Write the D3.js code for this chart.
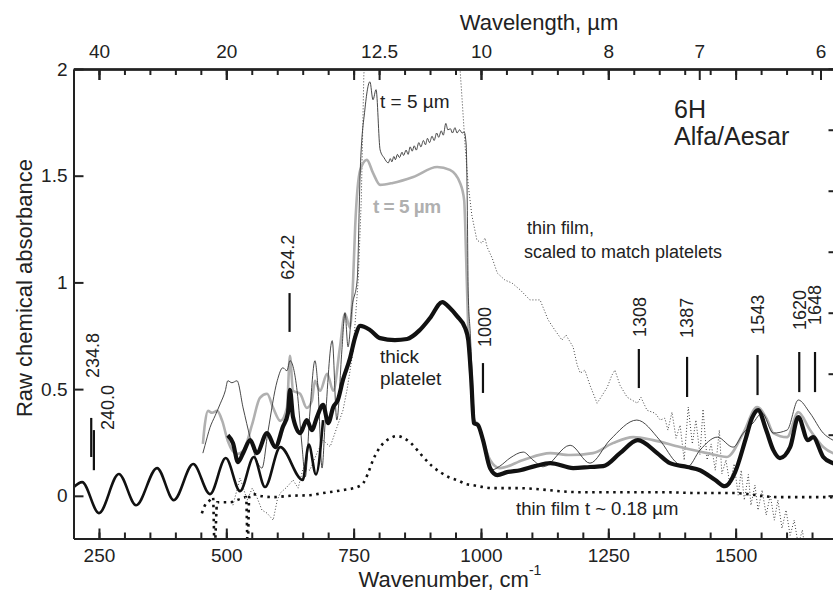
<!DOCTYPE html>
<html>
<head>
<meta charset="utf-8">
<script src="https://cdn.jsdelivr.net/npm/d3@7"></script>
<style>
  body { margin: 0; background: #fff; }
  svg text { font-family: "Liberation Sans", Arial, sans-serif; fill: #222; }
  .axis path, .axis line { stroke: #222; stroke-width: 2; }
</style>
</head>
<body>
<div id="chart"></div>
<script>
// ---------------------- DATA (wavenumber cm-1, absorbance) ----------------------

// far-IR fringes of the platelet
var farIR = [[200,0.04],[217,0.064],[250,-0.081],[289,0.102],[323,-0.044],[364,0.13],[397,-0.02],
  [435,0.149],[468,0.008],[499,0.177],[527,0.022],[554,0.182],[576,0.041],[606,0.228],[650,0.074],
  [662,0.24],[676,0.10],[690,0.355]];

// thick platelet
var thickPlatelet = [[503,0.284],[513,0.247],[523,0.158],[533,0.2],[547,0.261],[560,0.2],[580,0.294],
  [596,0.228],[611,0.322],[621,0.388],[625,0.496],[631,0.369],[645,0.294],[658,0.355],[668,0.308],
  [678,0.369],[690,0.426],[700,0.341],[710,0.416],[719,0.449],[729,0.543],[743,0.646],[753,0.744],
  [763,0.796],[782,0.777],[802,0.739],[831,0.73],[855,0.735],[880,0.777],[900,0.833],[924,0.908],
  [939,0.88],[953,0.842],[969,0.786],[975,0.73],[981,0.543],[986,0.341],[994,0.332],[1004,0.261],
  [1018,0.129],[1032,0.097],[1051,0.111],[1077,0.12],[1106,0.139],[1136,0.153],[1181,0.13],
  [1214,0.135],[1240,0.139],[1273,0.2],[1308,0.261],[1346,0.2],[1371,0.153],[1405,0.135],
  [1430,0.12],[1460,0.074],[1479,0.045],[1499,0.111],[1519,0.261],[1532,0.364],[1544,0.402],
  [1560,0.308],[1574,0.214],[1587,0.177],[1607,0.228],[1623,0.369],[1642,0.261],[1652,0.275],
  [1672,0.182],[1691,0.153],[1701,0.144]];

// t = 5 um, thin black trace
var thinBlack = [[454,0.2],[458,0.235],[468,0.32],[478,0.375],[488,0.431],[498,0.492],[503,0.539],
  [511,0.53],[521,0.539],[533,0.412],[547,0.271],[560,0.163],[570,0.13],[582,0.304],[600,0.539],
  [611,0.6],[619,0.586],[625,0.633],[639,0.492],[649,0.225],[655,0.088],[664,0.388],[674,0.633],
  [680,0.506],[688,0.13],[694,0.341],[708,0.727],[717,0.355],[727,0.684],[733,0.858],[739,0.698],
  [747,0.886],[757,1.012],[763,1.527],[772,1.808],[782,1.94],[788,1.856],[794,1.903],[802,1.621],
  [810,1.583],[818,1.56],[822,1.58],[825,1.565],[829,1.59],[832,1.575],[836,1.6],[840,1.585],
  [845,1.61],[848,1.595],[853,1.62],[857,1.6],[861,1.635],[865,1.615],[869,1.64],[873,1.62],
  [878,1.655],[882,1.635],[887,1.665],[891,1.645],[895,1.675],[899,1.655],[904,1.685],[908,1.665],
  [913,1.7],[917,1.68],[922,1.71],[926,1.69],[931,1.745],[935,1.715],[940,1.72],[944,1.7],
  [949,1.725],[953,1.7],[958,1.715],[963,1.7],[967,1.705],[971,1.644],[973,1.386],[975,0.95],
  [979,0.762],[988,0.355],[992,0.327],[998,0.318],[1012,0.168],[1022,0.122],[1037,0.139],
  [1057,0.177],[1083,0.205],[1102,0.168],[1122,0.136],[1175,0.237],[1214,0.153],[1253,0.261],
  [1306,0.355],[1351,0.261],[1385,0.153],[1405,0.135],[1430,0.214],[1464,0.275],[1495,0.228],
  [1515,0.294],[1534,0.341],[1552,0.388],[1574,0.294],[1601,0.308],[1623,0.449],[1646,0.388],
  [1672,0.294],[1691,0.261],[1701,0.25]];

// t = 5 um, gray trace
var grayTrace = [[454,0.243],[458,0.337],[464,0.398],[472,0.389],[482,0.398],[492,0.351],[503,0.257],
  [521,0.196],[533,0.21],[551,0.337],[566,0.459],[580,0.478],[592,0.412],[606,0.351],[619,0.412],
  [625,0.656],[631,0.492],[645,0.478],[658,0.412],[668,0.445],[674,0.539],[684,0.492],[698,0.572],
  [710,0.492],[723,0.694],[733,0.853],[743,0.788],[749,1.012],[753,1.26],[763,1.527],[776,1.574],
  [788,1.513],[802,1.457],[827,1.466],[867,1.494],[914,1.541],[939,1.527],[959,1.466],[967,1.386],
  [971,1.105],[975,0.777],[981,0.496],[986,0.355],[994,0.336],[1004,0.261],[1018,0.168],
  [1037,0.13],[1083,0.168],[1136,0.2],[1175,0.191],[1220,0.2],[1259,0.247],[1299,0.275],
  [1338,0.261],[1391,0.229],[1444,0.2],[1483,0.182],[1515,0.294],[1542,0.416],[1562,0.356],
  [1574,0.294],[1601,0.275],[1623,0.392],[1646,0.308],[1672,0.229],[1701,0.19]];

// thin film, scaled to match platelets (dotted)
var thinFilmScaled = [[513,-0.044],[527,0.083],[541,-0.02],[551,0.036],[560,-0.006],[570,-0.067],
  [580,-0.081],[592,-0.114],[600,-0.02],[606,0.013],[619,0.041],[631,0.074],[641,0.036],[651,0.13],
  [664,0.12],[678,0.2],[690,0.26],[704,0.23],[717,0.32],[729,0.4],[737,0.496],[749,0.68],[759,1.012],
  [765,1.386],[770,1.97],[774,2.14],[866,2.6],[959,1.996],[963,1.856],[969,1.635],[975,1.457],
  [982,1.316],[992,1.198],[1002,1.184],[1008,1.208],[1012,1.166],[1022,1.114],[1032,1.044],
  [1047,1.011],[1061,0.997],[1077,0.965],[1096,0.918],[1116,0.918],[1132,0.824],[1145,0.777],
  [1159,0.73],[1167,0.753],[1181,0.697],[1189,0.612],[1195,0.575],[1204,0.589],[1214,0.518],
  [1228,0.434],[1238,0.471],[1248,0.509],[1257,0.565],[1263,0.589],[1273,0.518],[1287,0.462],
  [1297,0.448],[1307,0.434],[1314,0.462],[1326,0.401],[1342,0.387],[1352,0.355],[1361,0.364],
  [1367,0.308],[1375,0.392],[1383,0.27],[1391,0.331],[1399,0.167],[1407,0.416],[1415,0.243],
  [1422,0.355],[1430,0.192],[1436,0.406],[1444,0.168],[1452,0.243],[1460,0.12],[1468,0.308],
  [1473,0.103],[1481,0.168],[1489,0.05],[1497,0.15],[1505,0.003],[1511,0.12],[1517,-0.02],
  [1525,0.1],[1530,-0.044],[1538,0.05],[1544,-0.067],[1552,0.027],[1560,-0.09],[1568,0.003],
  [1576,-0.114],[1583,-0.02],[1591,-0.152],[1599,-0.067],[1607,-0.185],[1615,-0.114],[1623,-0.23],
  [1631,-0.16],[1638,-0.28],[1650,-0.21],[1666,-0.35],[1701,-0.4]];

// thin film t ~ 0.18 um (dashed)
var thinFilm = [[452,-0.082],[458,-0.045],[468,-0.02],[474,-0.006],[477,-0.25],[482,-0.03],
  [492,-0.03],[507,-0.03],[527,-0.015],[539,-0.006],[542,-0.25],[545,-0.006],[553,0.008],
  [566,0],[592,-0.006],[625,0],[664,0.003],[690,0.013],[729,0.027],[757,0.041],[769,0.06],
  [778,0.104],[788,0.167],[798,0.214],[808,0.246],[822,0.27],[835,0.28],[849,0.27],[861,0.25],
  [875,0.214],[887,0.181],[904,0.139],[920,0.111],[936,0.088],[953,0.074],[971,0.055],[984,0.05],
  [1004,0.041],[1024,0.036],[1071,0.036],[1195,0.017],[1352,0.017],[1430,0.013],[1495,0.013],
  [1582,-0.006],[1627,-0.006],[1680,-0.006],[1701,-0.006]];

// labelled band positions
var peakWn = [234.8, 240.0, 624.2, 1000, 1308, 1387, 1543, 1620, 1648];
var peakText = ["234.8", "240.0", "624.2", "1000", "1308", "1387", "1543", "1620", "1648"];

// tick labels
var xTicks = [250, 500, 750, 1000, 1250, 1500];
var yTicks = [0, 0.5, 1, 1.5, 2];
var wlTicks = [40, 20, 12.5, 10, 8, 7, 6];

(function() {
    var width = 833,
    height = 591;
    var left = 73.5, right = 837.5, top = 69, bottom = 538.5;

    var svg = d3.select("#chart")
        .append("svg")
        .attr("width", width)
        .attr("height", height);

    var x = d3.scaleLinear().domain([200, 1700]).range([left, right]);
    var y = d3.scaleLinear().domain([-0.2, 2]).range([bottom, top]);
    // right axis has its own (unlabelled) scale
    var yR = d3.scaleLinear().domain([-0.0351, 0.3498]).range([bottom, top]);

    svg.append("clipPath").attr("id", "plot")
        .append("rect")
        .attr("x", left).attr("y", top)
        .attr("width", right - left).attr("height", bottom - top);

// ---------------------- CURVES ----------------------
    var smooth = d3.line()
        .x(function(d) { return x(d[0]); })
        .y(function(d) { return y(d[1]); })
        .curve(d3.curveMonotoneX);
    var straight = d3.line()
        .x(function(d) { return x(d[0]); })
        .y(function(d) { return y(d[1]); });

    var g = svg.append("g").attr("clip-path", "url(#plot)");

    function draw(data, gen, color, w, dash) {
        g.append("path")
            .datum(data)
            .attr("d", gen)
            .attr("fill", "none")
            .attr("stroke", color)
            .attr("stroke-width", w)
            .attr("stroke-linejoin", "round")
            .attr("stroke-dasharray", dash || null);
    }

    draw(thinFilmScaled, straight, "#444", 1, "1,2");
    draw(grayTrace, smooth, "#b0b0b0", 2.6);
    draw(thinBlack, smooth, "#333", 0.9);
    draw(thinFilm, smooth, "#111", 2.6, "2.5,4.5");
    draw(farIR, smooth, "#111", 2.6);
    draw(thickPlatelet, smooth, "#111", 4.2);

// ---------------------- AXES ----------------------
    var minor = d3.range(250, 1700, 50);

    svg.append("g").attr("class", "axis")
        .attr("transform", "translate(0," + bottom + ")")
        .call(d3.axisBottom(x).tickValues(minor).tickSize(-6).tickSizeOuter(0).tickFormat(""));
    var xAxis = svg.append("g").attr("class", "axis")
        .attr("transform", "translate(0," + bottom + ")")
        .call(d3.axisBottom(x).tickValues(xTicks).tickSize(-10).tickSizeOuter(0).tickPadding(10)
            .tickFormat(d3.format("d")));
    xAxis.selectAll("text").attr("font-size", 19);

    svg.append("g").attr("class", "axis")
        .attr("transform", "translate(0," + top + ")")
        .call(d3.axisTop(x).tickValues(minor).tickSize(-6).tickSizeOuter(0).tickFormat(""));
    svg.append("g").attr("class", "axis")
        .attr("transform", "translate(0," + top + ")")
        .call(d3.axisTop(x).tickValues(xTicks).tickSize(-11).tickSizeOuter(0).tickFormat(""));
    var wlAxis = svg.append("g").attr("class", "axis")
        .attr("transform", "translate(0," + top + ")")
        .call(d3.axisTop(x)
            .tickValues(wlTicks.map(function(l) { return 10000 / l; }))
            .tickFormat(function(d) { return d3.format("")(+(10000 / d).toFixed(1)); })
            .tickSize(-11).tickSizeOuter(0).tickPadding(11));
    wlAxis.selectAll("text").attr("font-size", 19);

    var yAxis = svg.append("g").attr("class", "axis")
        .attr("transform", "translate(" + left + ",0)")
        .call(d3.axisLeft(y).tickValues(yTicks).tickSize(-10).tickSizeOuter(0).tickPadding(6)
            .tickFormat(d3.format("")));
    yAxis.selectAll("text").attr("font-size", 19);

    svg.append("g").attr("class", "axis")
        .attr("transform", "translate(" + right + ",0)")
        .call(d3.axisRight(yR).tickValues(d3.range(0, 0.36, 0.05)).tickSize(-9).tickSizeOuter(0).tickFormat(""));

    // axis titles
    var xt = svg.append("text")
        .attr("x", 450).attr("y", 587)
        .attr("text-anchor", "middle")
        .attr("font-size", 22)
        .text("Wavenumber, cm");
    xt.append("tspan").attr("dy", -12).attr("font-size", 14).text("-1");

    svg.append("text")
        .attr("x", 539).attr("y", 30)
        .attr("text-anchor", "middle")
        .attr("font-size", 22)
        .text("Wavelength, \u00b5m");

    svg.append("text")
        .attr("transform", "translate(32,288) rotate(-90)")
        .attr("text-anchor", "middle")
        .attr("font-size", 22)
        .text("Raw chemical absorbance");

// ---------------------- BAND MARKERS ----------------------
    // bar extent and label base in absorbance units, shifts in px
    var barSpan = [[0.365,0.182],[0.308,0.12],[0.95,0.768],[0.622,0.482],[0.688,0.505],
        [0.651,0.463],[0.66,0.472],[0.674,0.486],[0.674,0.486]];
    var labelBase = [0.552, 0.308, 1.012, 0.697, 0.744, 0.74, 0.755, 0.777, 0.8];
    var barShift = [0, 0, 0, 2, 1, 9, 0, 2.5, 4];
    var labelShift = [1.5, 13.5, -1.5, 2, 1, 0, 0, 0, 0];

    peakWn.forEach(function(p, i) {
        var bx = x(p) + barShift[i];
        svg.append("line")
            .attr("x1", bx).attr("x2", bx)
            .attr("y1", y(barSpan[i][0])).attr("y2", y(barSpan[i][1]))
            .attr("stroke", "#111").attr("stroke-width", 2.2);
        svg.append("text")
            .attr("transform", "translate(" + (bx + labelShift[i]) + "," + y(labelBase[i]) + ") rotate(-90)")
            .attr("dy", "0.35em")
            .attr("font-size", 18)
            .text(peakText[i]);
    });

// ---------------------- TEXT LABELS ----------------------
    function label(t, px, py, size, extra) {
        var el = svg.append("text").attr("x", px).attr("y", py).attr("font-size", size).text(t);
        if (extra) extra(el);
    }
    label("t = 5 \u00b5m", 380, 108, 19);
    label("t = 5 \u00b5m", 373, 213, 19, function(el) {
        el.style("fill", "#b0b0b0").attr("font-weight", "bold").attr("letter-spacing", -0.5);
    });
    label("6H", 674, 118, 25);
    label("Alfa/Aesar", 674, 145, 25);
    label("thin film,", 527, 234, 18);
    label("scaled to match platelets", 524, 258, 18);
    label("thick", 380, 363, 19);
    label("platelet", 380, 385, 19);
    label("thin film t ~ 0.18 \u00b5m", 516, 515, 18.5);
})();
</script>
</body>
</html>
